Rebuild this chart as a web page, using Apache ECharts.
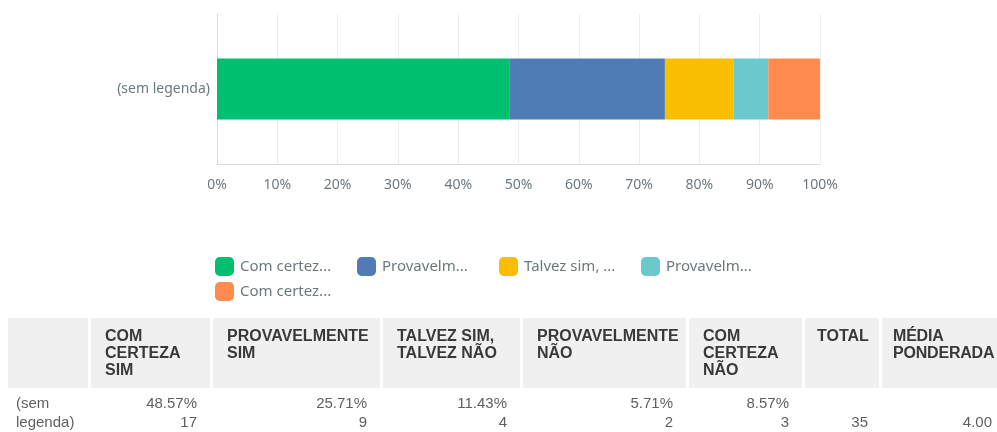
<!DOCTYPE html>
<html>
<head>
<meta charset="utf-8">
<script src="https://cdn.jsdelivr.net/npm/echarts@6/dist/echarts.min.js"></script>
<style>
  html, body { margin: 0; padding: 0; background: #fff; }
  #wrap { position: relative; width: 997px; height: 432px; overflow: hidden; }
  #chart { position: absolute; left: 0; top: 0; width: 997px; height: 432px; }
  #tbl { position: absolute; left: 5px; top: 318px; border-collapse: separate; border-spacing: 3px 0; table-layout: fixed;
         font-family: "Liberation Sans", Arial, sans-serif; }
  #tbl th { background: #f0f0f0; color: #393939; font-weight: bold; font-size: 16px; line-height: 17px; text-align: left;
            vertical-align: top; padding: 9px 6px 0 14px; height: 61px; box-sizing: content-box; overflow: hidden; white-space: nowrap; }
  #tbl th.h6 { padding-left: 12px; }
  #tbl th.h7 { padding-left: 11px; letter-spacing: -0.2px; }
  #tbl td { color: #5f5f5f; font-size: 15px; line-height: 19px; vertical-align: top; text-align: right; padding: 5px 13px 0 6px; }
  #tbl td.lbl { text-align: left; padding-left: 8px; }
  #tbl td.c6 { padding-right: 11px; }
  #tbl td.c7 { padding-right: 14px; }
</style>
</head>
<body>
<div id="wrap">
  <div id="chart"></div>
  <table id="tbl"><colgroup id="cg"></colgroup><thead><tr id="hrow"></tr></thead><tbody><tr id="drow"></tr></tbody></table>
</div>
<script>
// ---- data ----
const categories = ['(sem legenda)'];
const seriesNames = ['Com certeza sim', 'Provavelmente sim', 'Talvez sim, talvez não', 'Provavelmente não', 'Com certeza não'];
const percents = [48.57, 25.71, 11.43, 5.71, 8.57];
const counts = [17, 9, 4, 2, 3];
const total = 35;
const weightedAverage = '4.00';
const xTicks = [0, 10, 20, 30, 40, 50, 60, 70, 80, 90, 100];
const headerLines = [[], ['COM', 'CERTEZA', 'SIM'], ['PROVAVELMENTE', 'SIM'], ['TALVEZ SIM,', 'TALVEZ NÃO'],
  ['PROVAVELMENTE', 'NÃO'], ['COM', 'CERTEZA', 'NÃO'], ['TOTAL'], ['MÉDIA', 'PONDERADA']];
const rowLabelLines = ['(sem', 'legenda)'];
const colors = ['#00bf6f', '#507cb6', '#f9be00', '#6bc8cd', '#ff8b4f'];
const colWidths = [80, 119, 167, 137, 163, 113, 74, 124];

// ---- chart ----
const chart = echarts.init(document.getElementById('chart'), null, { renderer: 'canvas' });
const font = '"Noto Sans", "Open Sans", sans-serif';
const legendFont = '15px "Noto Sans"';
const legendPerRow = 4, legendStepX = 142, legendStepY = 25;
const legends = seriesNames.map((n, i) => ({
  type: 'plain', padding: 0,
  left: 215 + legendStepX * (i % legendPerRow),
  top: 257 + legendStepY * Math.floor(i / legendPerRow),
  itemWidth: 19, itemHeight: 19,
  icon: 'roundRect',
  formatter: name => echarts.format.truncateText(name, 94, legendFont, '...'),
  textStyle: { color: '#6b787f', fontSize: 15, fontFamily: font, padding: [0, 0, 0, 1] },
  data: [n]
}));
chart.setOption({
  animation: false,
  color: colors,
  grid: { left: 217, right: 177, top: 14, height: 150, containLabel: false },
  xAxis: {
    type: 'value', min: xTicks[0], max: xTicks[xTicks.length - 1], interval: xTicks[1] - xTicks[0],
    axisLabel: { formatter: '{value}%', color: '#6b787f', fontSize: 14, margin: 14, fontFamily: font },
    axisLine: { show: true, lineStyle: { color: '#d9d9d9' } },
    axisTick: { show: false },
    splitLine: { show: true, lineStyle: { color: '#ececec' } }
  },
  yAxis: {
    type: 'category', data: categories,
    axisLabel: { color: '#6b787f', fontSize: 14, margin: 7, fontFamily: font },
    axisLine: { show: true, lineStyle: { color: '#d9d9d9' } },
    axisTick: { show: false }
  },
  legend: legends,
  series: seriesNames.map((n, i) => ({
    name: n, type: 'bar', stack: 'total', barWidth: 61,
    data: [percents[i]],
    itemStyle: { color: colors[i] }
  }))
});

// ---- table ----
const tbl = document.getElementById('tbl');
tbl.style.width = (colWidths.reduce((a, b) => a + b, 0) + 3 * (colWidths.length + 1)) + 'px';
const cg = document.getElementById('cg');
colWidths.forEach(w => { const c = document.createElement('col'); c.style.width = w + 'px'; cg.appendChild(c); });
const hrow = document.getElementById('hrow');
headerLines.forEach((lines, i) => {
  const th = document.createElement('th');
  th.className = 'h' + i;
  th.innerHTML = lines.join('<br>');
  hrow.appendChild(th);
});
const drow = document.getElementById('drow');
const cells = [];
cells.push({ html: rowLabelLines.join('<br>'), cls: 'lbl' });
percents.forEach((p, i) => cells.push({ html: p.toFixed(2) + '%<br>' + counts[i] }));
cells.push({ html: '<br>' + total, cls: 'c6' });
cells.push({ html: '<br>' + weightedAverage, cls: 'c7' });
cells.forEach(c => {
  const td = document.createElement('td');
  if (c.cls) td.className = c.cls;
  td.innerHTML = c.html;
  drow.appendChild(td);
});
</script>
</body>
</html>
